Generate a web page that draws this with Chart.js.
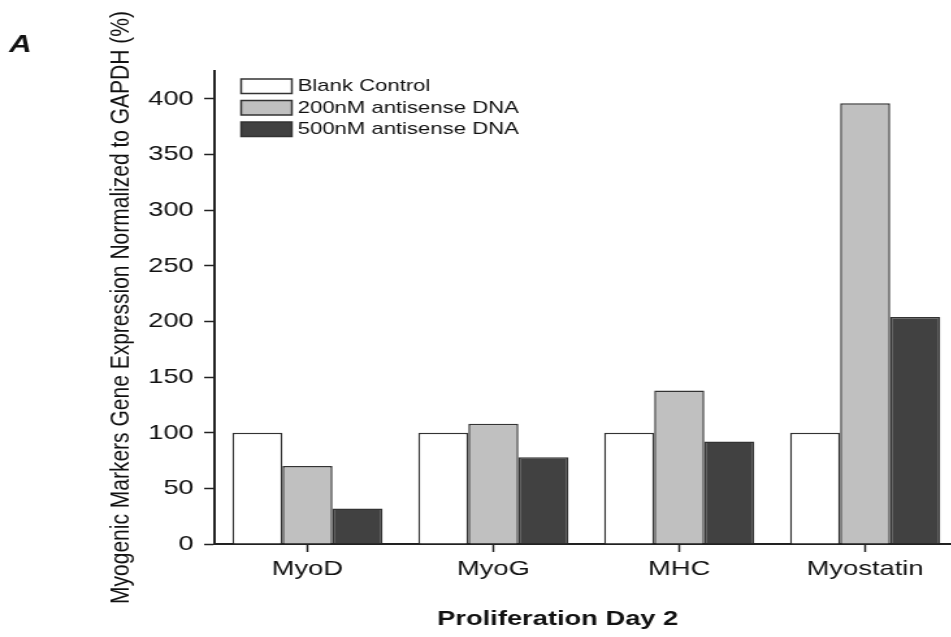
<!DOCTYPE html>
<html>
<head>
<meta charset="utf-8">
<script src="https://cdn.jsdelivr.net/npm/chart.js@4.4.1/dist/chart.umd.min.js"></script>
<style>
    html, body { margin: 0; padding: 0; background: #fff; overflow: hidden; }
    /* figure is drawn narrow and widened, like the exported figure */
    #wrap { width: 740px; height: 637px; transform: scaleX(1.3); transform-origin: 0 0; }
</style>
</head>
<body>
<div id="wrap"><canvas id="marker_canvas" width="740" height="637"></canvas></div>
<script>
var markers = ["MyoD", "MyoG", "MHC", "Myostatin"];
var blankControl = [100, 100, 100, 100];
var antisense200 = [70, 108, 138, 396];
var antisense500 = [32, 78, 92, 204];
var seriesNames = ["Blank Control", "200nM antisense DNA", "500nM antisense DNA"];
var yMajorTicks = [0, 50, 100, 150, 200, 250, 300, 350, 400];

var fontFamily = "'Liberation Sans', Arial, Helvetica, sans-serif";
var axisColor = "#222";

var marker_canvas = document.getElementById("marker_canvas");

// Legend, minor y ticks, x title and panel letter
var extrasPlugin = {
    id: "extras",
    afterDraw: function (chart) {
        var ctx = chart.ctx;
        var y = chart.scales.y;
        ctx.save();

        // minor ticks between the labelled ones
        ctx.strokeStyle = axisColor;
        ctx.lineWidth = 1.5;
        y.ticks.forEach(function (t) {
            if (yMajorTicks.indexOf(t.value) === -1) {
                var py = Math.round(y.getPixelForValue(t.value)) + 0.5;
                ctx.beginPath();
                ctx.moveTo(y.right - 4.5, py);
                ctx.lineTo(y.right, py);
                ctx.stroke();
            }
        });

        // legend in the top left corner of the plot
        ctx.font = "17px " + fontFamily;
        ctx.textBaseline = "middle";
        ctx.textAlign = "left";
        chart.data.datasets.forEach(function (ds, i) {
            var top = 79 + i * 21.5;
            ctx.fillStyle = ds.backgroundColor;
            ctx.fillRect(185.5, top, 39, 14.5);
            ctx.strokeStyle = "#333";
            ctx.lineWidth = 1.5;
            ctx.strokeRect(185.5, top, 39, 14.5);
            ctx.fillStyle = "#111";
            ctx.fillText(ds.label, 229, top + 7.5);
        });

        // x axis title
        ctx.font = "bold 21px " + fontFamily;
        ctx.textAlign = "center";
        ctx.fillStyle = "#111";
        ctx.fillText("Proliferation Day 2", 429, 619.5);

        // panel letter
        ctx.font = "italic bold 24px " + fontFamily;
        ctx.textAlign = "left";
        ctx.textBaseline = "alphabetic";
        ctx.fillText("A", 7, 52);

        ctx.restore();
    },
};

var markerChart = new Chart(marker_canvas, {
    type: "bar",
    data: {
        labels: markers,
        datasets: [
            {
                label: seriesNames[0],
                data: blankControl,
                backgroundColor: "#ffffff",
            },
            {
                label: seriesNames[1],
                data: antisense200,
                backgroundColor: "#c0c0c0",
            },
            {
                label: seriesNames[2],
                data: antisense500,
                backgroundColor: "#414141",
            },
        ],
    },
    options: {
        responsive: false,
        animation: false,
        layout: {
            padding: { top: 71, right: 3, left: 0, bottom: 0 },
        },
        datasets: {
            bar: {
                borderColor: "#333",
                borderWidth: 1.5,
                categoryPercentage: 0.808,
                barPercentage: 1,
            },
        },
        plugins: {
            legend: { display: false },
            tooltip: { enabled: false },
        },
        scales: {
            x: {
                afterFit: function (scale) {
                    scale.height = 93;
                },
                grid: {
                    offset: false,
                    drawOnChartArea: false,
                    tickLength: 8,
                    tickWidth: 1.5,
                    color: axisColor,
                },
                border: { color: axisColor, width: 2 },
                ticks: {
                    padding: 5,
                    color: "#111",
                    font: { size: 21, family: fontFamily },
                },
            },
            y: {
                min: 0,
                max: 425,
                afterFit: function (scale) {
                    scale.width = 165;
                },
                title: {
                    display: true,
                    text: "Myogenic Markers Gene Expression Normalized to GAPDH (%)",
                    color: "#111",
                    padding: { top: 81, bottom: 0 },
                    font: { size: 21, family: fontFamily },
                },
                grid: {
                    drawOnChartArea: false,
                    tickLength: 8,
                    tickWidth: 1.5,
                    color: function (c) {
                        return yMajorTicks.indexOf(c.tick.value) === -1 ? "rgba(0,0,0,0)" : axisColor;
                    },
                },
                border: { color: axisColor, width: 2 },
                ticks: {
                    stepSize: 25,
                    padding: 8,
                    color: "#111",
                    font: { size: 21, family: fontFamily },
                    callback: function (value) {
                        return yMajorTicks.indexOf(value) === -1 ? "" : value;
                    },
                },
            },
        },
    },
    plugins: [extrasPlugin],
});
</script>
</body>
</html>
